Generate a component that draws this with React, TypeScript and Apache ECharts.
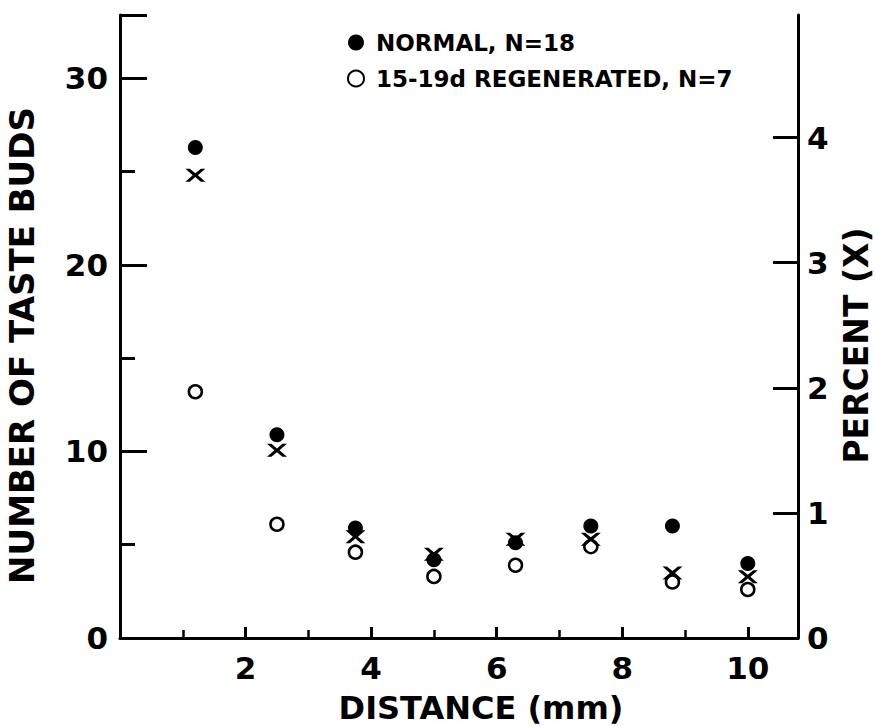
import React, { useEffect, useRef } from "react";
import * as echarts from "echarts";

const distances = [1.2, 2.5, 3.75, 5.0, 6.3, 7.5, 8.8, 10.0];
const normalBuds = [26.3, 10.9, 5.9, 4.2, 5.1, 6.0, 6.0, 4.0];
const regeneratedBuds = [13.2, 6.1, 4.6, 3.3, 3.9, 4.9, 3.0, 2.6];
const percentValues = [3.7, 1.5, 0.81, 0.67, 0.79, 0.79, 0.52, 0.49];

const legendNormal = "NORMAL, N=18";
const legendRegen = "15-19d REGENERATED, N=7";
const xName = "DISTANCE (mm)";
const yLeftName = "NUMBER OF TASTE BUDS";
const yRightName = "PERCENT (X)";

const FONT = "DejaVu Sans";
const CROSS =
  "path://M0,0 L4.5,0 L10,4.6 L15.5,0 L20,0 L12.6,6.5 L20,13 L15.5,13 L10,8.4 L4.5,13 L0,13 L7.4,6.5 Z";

export default function App() {
  const ref = useRef<HTMLDivElement>(null);
  useEffect(() => {
    if (!ref.current) return;
    const chart = echarts.init(ref.current, null, { renderer: "svg" });
    const pairs = (ys: number[]) => distances.map((x, i) => [x, ys[i]]);
    const labelStyle = {
      color: "#000",
      fontFamily: FONT,
      fontWeight: "bold" as const,
      fontSize: 31,
    };
    const nameStyle = {
      color: "#000",
      fontFamily: FONT,
      fontWeight: "bold" as const,
      fontSize: 34,
    };
    chart.setOption({
      animation: false,
      backgroundColor: "#fff",
      grid: {
        left: 120,
        right: 77,
        top: 15,
        bottom: 88,
        containLabel: false,
        outerBoundsMode: "none",
      },
      legend: {
        left: 342,
        top: 26,
        orient: "vertical",
        itemWidth: 30,
        itemHeight: 16,
        itemGap: 13,
        icon: "circle",
        data: [legendNormal, legendRegen],
        textStyle: {
          color: "#000",
          fontFamily: FONT,
          fontWeight: "bold",
          fontSize: 23,
        },
        selectedMode: false,
      },
      xAxis: {
        type: "value",
        min: 0,
        max: 10.8,
        interval: 2,
        name: xName,
        nameLocation: "middle",
        nameGap: 54,
        nameTextStyle: { ...nameStyle, fontSize: 32, padding: [0, 0, 0, 44] },
        axisLine: { show: true, onZero: false, lineStyle: { color: "#000", width: 3 } },
        axisTick: { show: true, inside: true, length: 11, lineStyle: { color: "#000", width: 3 } },
        minorTick: { show: true, splitNumber: 2, length: 8, lineStyle: { color: "#000", width: 2.5 } },
        splitLine: { show: false },
        minorSplitLine: { show: false },
        axisLabel: {
          ...labelStyle,
          margin: 14,
          showMinLabel: false,
          showMaxLabel: false,
          formatter: (v: number) => (v === 0 || v > 10 ? "" : String(v)),
        },
      },
      yAxis: [
        {
          type: "value",
          position: "left",
          min: 0,
          max: 33.4,
          interval: 10,
          name: yLeftName,
          nameLocation: "middle",
          nameGap: 81,
          nameRotate: 90,
          nameTextStyle: { ...nameStyle, padding: [0, 38, 0, 0] },
          axisLine: { show: true, onZero: false, lineStyle: { color: "#000", width: 3 } },
          axisTick: { show: true, inside: true, length: 27, lineStyle: { color: "#000", width: 3 } },
          minorTick: { show: true, splitNumber: 2, length: 15, lineStyle: { color: "#000", width: 3 } },
          splitLine: { show: false },
          minorSplitLine: { show: false },
          axisLabel: {
            ...labelStyle,
            margin: 12,
            showMaxLabel: false,
            formatter: (v: number) => (v > 30 ? "" : String(v)),
          },
        },
        {
          type: "value",
          position: "right",
          min: 0,
          max: 4.98,
          interval: 1,
          name: yRightName,
          nameLocation: "middle",
          nameGap: 42,
          nameRotate: 90,
          nameTextStyle: { ...nameStyle, fontSize: 33, padding: [0, 38, 0, 0] },
          axisLine: { show: true, onZero: false, lineStyle: { color: "#000", width: 3 } },
          axisTick: { show: true, inside: true, length: 25, lineStyle: { color: "#000", width: 3 } },
          splitLine: { show: false },
          axisLabel: {
            ...labelStyle,
            margin: 9,
            showMaxLabel: false,
            formatter: (v: number) => (v > 4 ? "" : String(v)),
          },
        },
      ],
      series: [
        {
          name: legendNormal,
          type: "scatter",
          yAxisIndex: 0,
          symbol: "circle",
          symbolSize: 15,
          itemStyle: { color: "#000", opacity: 1 },
          data: pairs(normalBuds),
          z: 3,
        },
        {
          name: legendRegen,
          type: "scatter",
          yAxisIndex: 0,
          symbol: "circle",
          symbolSize: 13,
          itemStyle: { color: "#fff", borderColor: "#000", borderWidth: 2.5, opacity: 1 },
          data: pairs(regeneratedBuds),
          z: 4,
        },
        {
          name: "PERCENT",
          type: "scatter",
          yAxisIndex: 1,
          symbol: CROSS,
          symbolSize: [20, 13],
          itemStyle: { color: "#000", opacity: 1 },
          data: pairs(percentValues),
          z: 5,
        },
      ],
    });
    return () => chart.dispose();
  }, []);
  return (
    <div
      ref={ref}
      style={{ position: "absolute", left: 0, top: 0, width: 875, height: 726, background: "#fff" }}
    />
  );
}
